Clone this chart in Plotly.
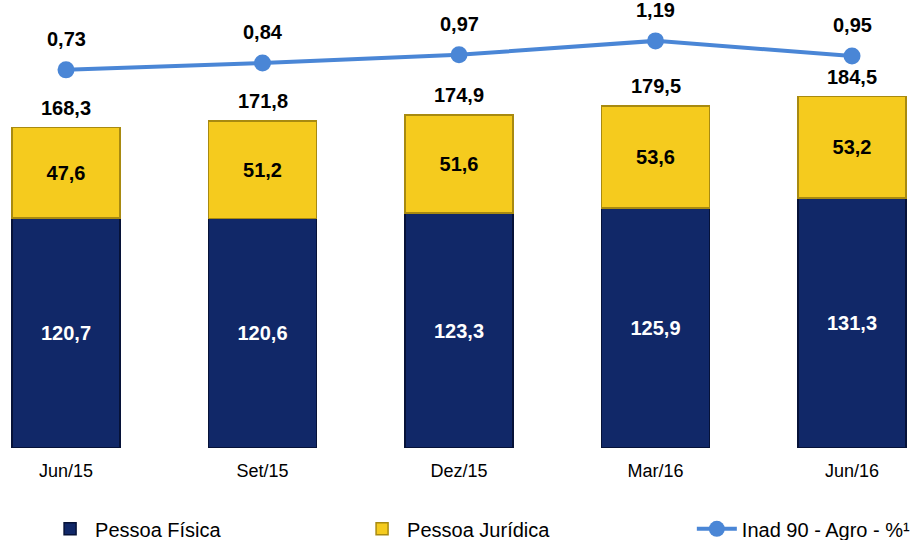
import plotly.graph_objects as go

categories = ["Jun/15", "Set/15", "Dez/15", "Mar/16", "Jun/16"]
pessoa_fisica = [120.7, 120.6, 123.3, 125.9, 131.3]
pessoa_juridica = [47.6, 51.2, 51.6, 53.6, 53.2]
totals = [168.3, 171.8, 174.9, 179.5, 184.5]
inad = [0.73, 0.84, 0.97, 1.19, 0.95]

def br(v, d=1):
    return f"{v:.{d}f}".replace(".", ",")

FONT = "Liberation Sans, Arial, sans-serif"
LEGFONT = "Liberation Sans Narrow, Arial Narrow, Liberation Sans, sans-serif"
fig = go.Figure()
fig.add_trace(go.Bar(
    x=categories, y=pessoa_fisica, name="Pessoa Física",
    marker=dict(color="#112868", line=dict(color="#061238", width=1.5)),
    text=[f"<b>{br(v)}</b>" for v in pessoa_fisica], textposition="inside", insidetextanchor="middle",
    textfont=dict(color="white", size=20, family=FONT), width=0.55, legend="legend",
))
fig.add_trace(go.Bar(
    x=categories, y=pessoa_juridica, name="Pessoa Jurídica",
    marker=dict(color="#f5cb1e", line=dict(color="#a88a10", width=1.5)),
    text=[f"<b>{br(v)}</b>" for v in pessoa_juridica], textposition="inside", insidetextanchor="middle",
    textfont=dict(color="black", size=20, family=FONT), width=0.55, legend="legend",
))
fig.add_trace(go.Scatter(
    x=categories, y=inad, name="Inad 90 - Agro - %¹", yaxis="y2",
    mode="lines+markers", legend="legend2",
    line=dict(color="#4a86d6", width=4), marker=dict(size=17, color="#4a86d6"),
))
for c, t in zip(categories, totals):
    fig.add_annotation(x=c, y=t, text=f"<b>{br(t)}</b>", showarrow=False, yshift=20,
                       font=dict(size=20, color="black", family=FONT))
for c, v in zip(categories, inad):
    fig.add_annotation(x=c, y=v, yref="y2", text=f"<b>{br(v, 2)}</b>", showarrow=False, yshift=31,
                       font=dict(size=20, color="black", family=FONT))

fig.update_layout(
    width=920, height=540, barmode="stack", bargap=0.45,
    margin=dict(l=0, r=0, t=10, b=92, autoexpand=False),
    plot_bgcolor="white", paper_bgcolor="white",
    font=dict(family=FONT, size=18, color="black"),
    xaxis=dict(range=[-0.336, 4.346], showline=False, ticks="", tickfont=dict(size=18),
               ticklabelstandoff=10),
    yaxis=dict(range=[0, 230], visible=False),
    yaxis2=dict(range=[-5.27, 1.68], overlaying="y", visible=False),
    legend=dict(orientation="h", x=0.049, xanchor="left", y=-0.14, yanchor="top",
                font=dict(size=20, family=LEGFONT), entrywidth=257, traceorder="normal",
                itemwidth=40),
    legend2=dict(orientation="h", x=0.752, xanchor="left", y=-0.14, yanchor="top",
                 font=dict(size=20, family=LEGFONT), itemwidth=40),
    showlegend=True,
)
fig.write_html("out.html", config={"displayModeBar": False})

with open("out.html", encoding="utf-8") as f:
    html = f.read()
html = html.replace("<body>", '<body style="margin:0;padding:0">', 1)
with open("out.html", "w", encoding="utf-8") as f:
    f.write(html)
